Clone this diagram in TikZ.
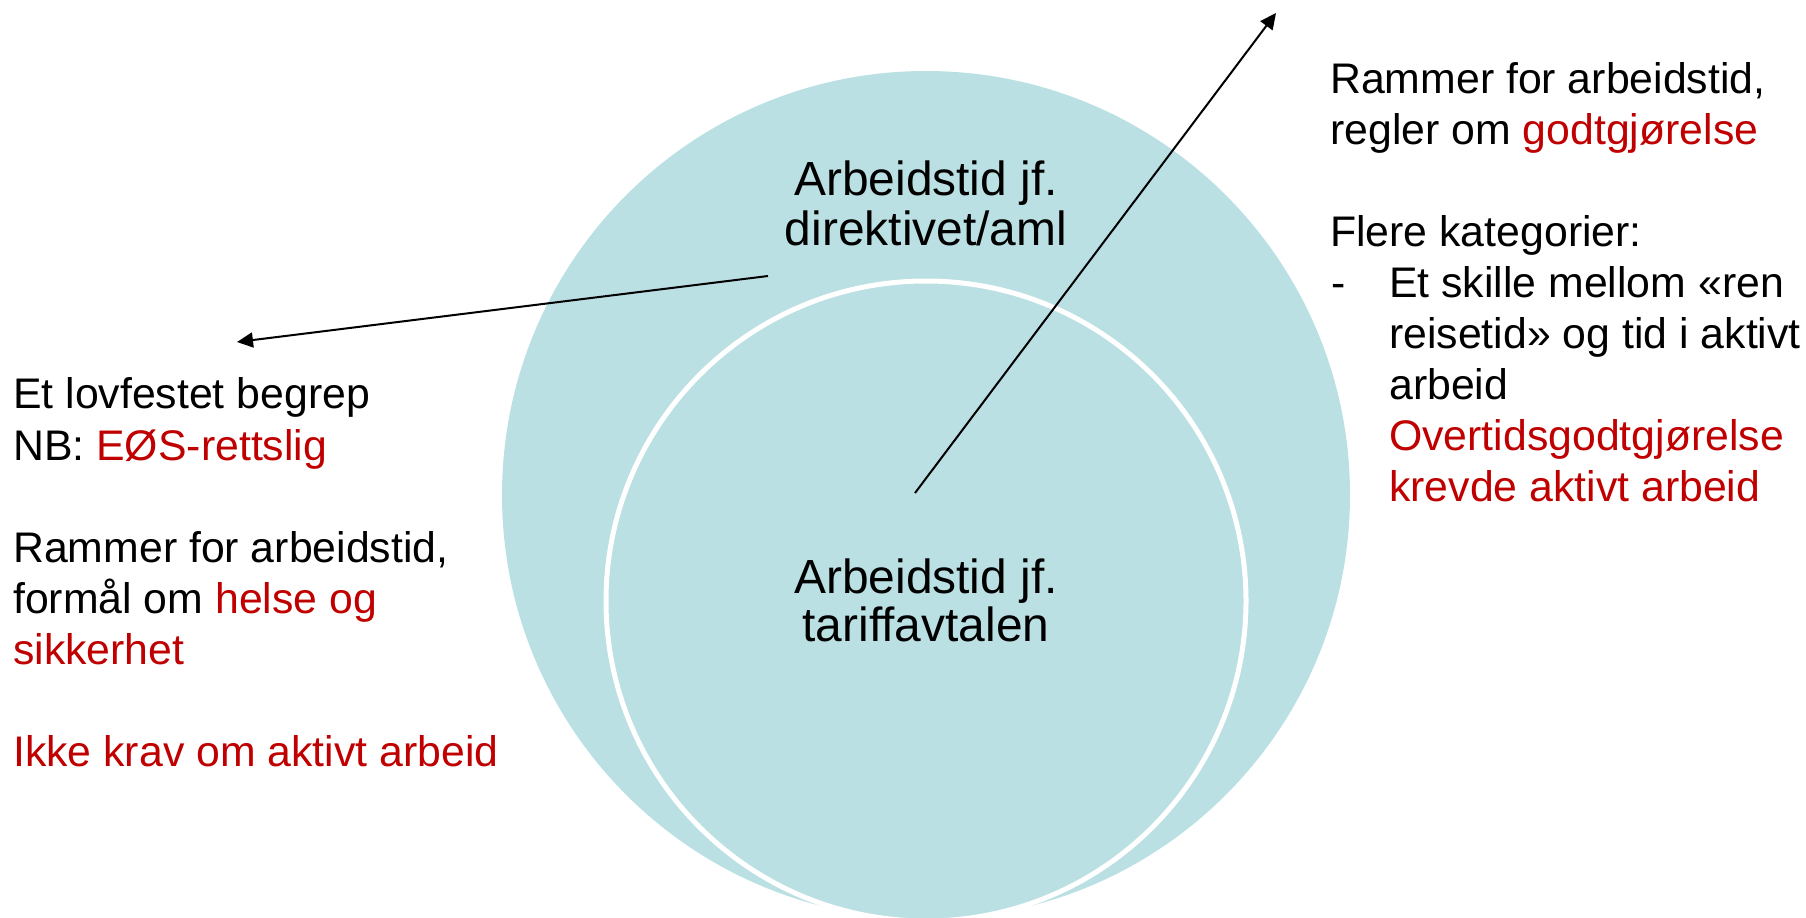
\documentclass[tikz,border=0pt]{standalone}
\usepackage{fontspec}
\setmainfont{Liberation Sans}
\usetikzlibrary{arrows.meta}
\definecolor{circfill}{RGB}{186,224,227}
\definecolor{txtred}{RGB}{192,0,0}
\newcommand\sidefont{\fontsize{42.8bp}{51bp}\selectfont}
\newcommand\cenfont{\fontsize{47.9bp}{50bp}\selectfont}
\newcommand\rd[1]{\textcolor{txtred}{#1}}
\begin{document}
\begin{tikzpicture}[x=1bp,y=-1bp,
  lt/.style={anchor=base west, inner sep=0pt, font=\sidefont},
  ct/.style={anchor=base, inner sep=0pt, font=\cenfont},
  arr/.style={line width=2bp, -{Triangle[length=16bp,width=15bp]}}]
\useasboundingbox (0,0) rectangle (1806,917);
\clip (0,0) rectangle (1806,917);
% circles
\fill[circfill] (926,495) circle[radius=424bp];
\draw[white, line width=5bp, fill=circfill] (926,601) circle[radius=320bp];
% centre texts
\node[ct] (c1) at (926,195) {Arbeidstid jf.};
\node[ct] (c2) at (926,245) {direktivet/aml};
\node[ct] (c3) at (926,593) {Arbeidstid jf.};
\node[ct] (c4) at (926,641) {tariffavtalen};
% left texts
\node[lt] (l1) at (13,408) {Et lovfestet begrep};
\node[lt] (l2) at (13,460) {NB: \rd{EØS-rettslig}};
\node[lt] (l3) at (13,562) {Rammer for arbeidstid,};
\node[lt] (l4) at (13,613) {formål om \rd{helse og}};
\node[lt, text=txtred] (l5) at (13,664) {sikkerhet};
\node[lt, text=txtred] (l6) at (13,766) {Ikke krav om aktivt arbeid};
% right texts
\node[lt] (r1) at (1330,93) {Rammer for arbeidstid,};
\node[lt] (r2) at (1330,144) {regler om \rd{godtgjørelse}};
\node[lt] (r3) at (1330,246) {Flere kategorier:};
\node[lt] (r4d) at (1331,297) {-};
\node[lt] (r4) at (1389,297) {Et skille mellom «ren};
\node[lt] (r5) at (1389,348) {reisetid» og tid i aktivt};
\node[lt] (r6) at (1389,399) {arbeid};
\node[lt, text=txtred] (r7) at (1389,450) {Overtidsgodtgjørelse};
\node[lt, text=txtred] (r8) at (1389,501) {krevde aktivt arbeid};
% arrows
\coordinate (a1s) at (768,276);
\coordinate (a1e) at (237,342);
\coordinate (a2s) at (915,493);
\coordinate (a2e) at (1276,13);
\draw[arr] (a1s) -- (a1e);
\draw[arr] (a2s) -- (a2e);
\end{tikzpicture}
\end{document}
